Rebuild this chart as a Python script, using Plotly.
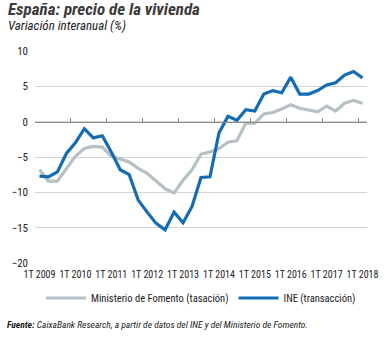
import plotly.graph_objects as go

# Quarterly periods, 1T 2009 to 1T 2018
years = list(range(2009, 2019))
quarters = [f"{q}T {y}" for y in years for q in range(1, 5)][:37]
year_ticks = [f"1T {y}" for y in years]

# Ministerio de Fomento (tasación), year-on-year change in %
fomento = [-6.8, -8.4, -8.4, -6.6, -4.9, -3.8, -3.5, -3.6, -4.9, -5.3,
           -5.7, -6.6, -7.3, -8.4, -9.5, -10.1, -8.3, -6.8, -4.6, -4.3,
           -3.8, -2.9, -2.7, -0.2, -0.2, 1.1, 1.3, 1.8, 2.4, 1.9,
           1.6, 1.4, 2.2, 1.5, 2.6, 3.0, 2.6]

# INE (transacción), year-on-year change in %
ine = [-7.7, -7.8, -7.1, -4.5, -3.0, -1.0, -2.3, -2.0, -4.3, -6.8,
       -7.5, -11.1, -12.8, -14.4, -15.3, -12.8, -14.3, -12.0, -7.9, -7.8,
       -1.6, 0.75, 0.2, 1.7, 1.5, 3.9, 4.4, 4.1, 6.3, 3.9,
       3.9, 4.4, 5.2, 5.5, 6.6, 7.1, 6.2]

y_range = [-20, 10]
y_ticks = [-20, -15, -10, -5, 0, 5, 10]

small_font = "Roboto Condensed, Roboto, sans-serif"
title_font = "Roboto Condensed, Roboto, sans-serif"

fig = go.Figure()
fig.add_trace(go.Scatter(
    x=quarters, y=fomento, mode="lines",
    name="Ministerio de Fomento (tasación)",
    line=dict(color="#b5c1c4", width=3.2),
))
fig.add_trace(go.Scatter(
    x=quarters, y=ine, mode="lines",
    name="INE (transacción)",
    line=dict(color="#146cb4", width=3.2),
))
# Invisible trace carrying the tick marks drawn on the zero line
fig.add_trace(go.Scatter(
    x=quarters, y=[None] * len(quarters), xaxis="x2",
    showlegend=False, hoverinfo="skip",
))

zero_pos = (0 - y_range[0]) / (y_range[1] - y_range[0])

fig.update_layout(
    width=390, height=338,
    margin=dict(l=28, r=17, t=51, b=75),
    paper_bgcolor="white", plot_bgcolor="white",
    font=dict(family=small_font, size=11, color="#222222"),
    xaxis=dict(
        type="category", categoryorder="array", categoryarray=quarters,
        tickmode="array", tickvals=year_ticks, ticktext=year_ticks,
        showgrid=False, showline=False, ticks="", zeroline=False,
        tickangle=0, tickfont=dict(size=10, color="#222222"),
        ticklabelstandoff=4,
        range=[-0.5, len(quarters) - 0.5],
    ),
    xaxis2=dict(
        type="category", categoryorder="array", categoryarray=quarters,
        overlaying="x", anchor="free", position=zero_pos, side="bottom",
        tickmode="array", tickvals=year_ticks, tickson="boundaries",
        showticklabels=False, showgrid=False, showline=True,
        linecolor="#8a8a8a", linewidth=1.2,
        ticks="inside", ticklen=4, tickcolor="#8a8a8a", tickwidth=1.2,
        range=[-0.5, len(quarters) - 0.5],
    ),
    yaxis=dict(
        range=y_range, tickmode="array", tickvals=y_ticks,
        showgrid=True, gridcolor="#d4d4d4", gridwidth=1,
        zeroline=False, showline=False, ticks="",
        tickfont=dict(size=11, color="#222222"),
        ticklabelstandoff=6,
    ),
    legend=dict(
        orientation="h", x=0.5, xanchor="center", y=-0.165, yanchor="middle",
        font=dict(size=10.5, color="#222222"), itemwidth=40,
        bgcolor="rgba(0,0,0,0)",
    ),
    showlegend=True,
)

fig.add_annotation(
    xref="paper", yref="paper", x=-0.088, y=1.198, xanchor="left", yanchor="middle",
    text="<b><i>España: precio de la vivienda</i></b>", showarrow=False,
    font=dict(family=title_font, size=17, color="#3c3c3c"),
)
fig.add_annotation(
    xref="paper", yref="paper", x=-0.088, y=1.118, xanchor="left", yanchor="middle",
    text="<i>Variación interanual (%)</i>", showarrow=False,
    font=dict(family=title_font, size=13, color="#222222"),
)
fig.add_annotation(
    xref="paper", yref="paper", x=-0.09, y=-0.29, xanchor="left", yanchor="middle",
    text="<b><i>Fuente:</i></b><i> CaixaBank Research, a partir de datos del INE y del Ministerio de Fomento.</i>",
    showarrow=False,
    font=dict(family=small_font, size=9.5, color="#222222"),
)

fig.write_html("out.html")
